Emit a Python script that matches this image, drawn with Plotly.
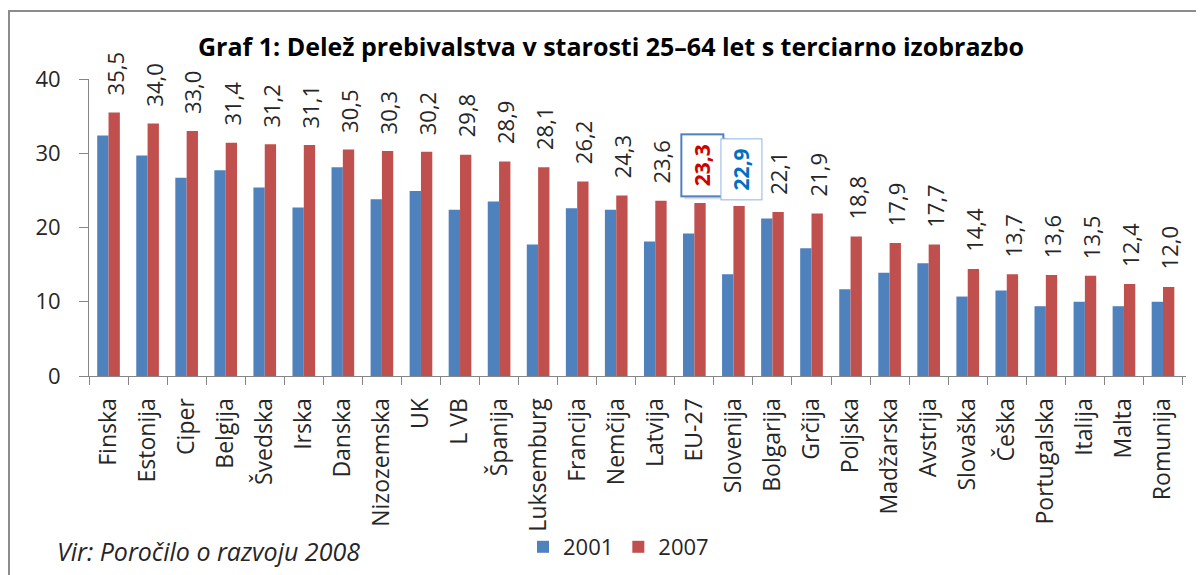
import plotly.graph_objects as go

categories = ["Finska", "Estonija", "Ciper", "Belgija", "Švedska", "Irska", "Danska",
              "Nizozemska", "UK", "L VB", "Španija", "Luksemburg", "Francija", "Nemčija",
              "Latvija", "EU-27", "Slovenija", "Bolgarija", "Grčija", "Poljska", "Madžarska",
              "Avstrija", "Slovaška", "Češka", "Portugalska", "Italija", "Malta", "Romunija"]

values_2001 = [32.4, 29.7, 26.7, 27.7, 25.4, 22.7, 28.1, 23.8, 24.9, 22.4, 23.5, 17.7,
               22.6, 22.4, 18.1, 19.2, 13.7, 21.2, 17.2, 11.7, 13.9, 15.2, 10.7, 11.5,
               9.4, 10.0, 9.4, 10.0]

values_2007 = [35.5, 34.0, 33.0, 31.4, 31.2, 31.1, 30.5, 30.3, 30.2, 29.8, 28.9, 28.1,
               26.2, 24.3, 23.6, 23.3, 22.9, 22.1, 21.9, 18.8, 17.9, 17.7, 14.4, 13.7,
               13.6, 13.5, 12.4, 12.0]

series_names = ["2001", "2007"]
y_ticks = [0, 10, 20, 30, 40]

highlight = {"EU-27": ("#d00000", "#4f81bd", 2, True),
             "Slovenija": ("#0070c0", "#8eb4e3", 1, False)}

FONT = "Open Sans"
TXT = "#262626"
BLUE = "#4f81bd"
RED = "#c0504d"

W, H = 1204, 575
OFF = 8  # page body margin
# plot area in figure pixels
L, R, T, B = 89 - OFF, 1186 - OFF, 79 - OFF, 376 - OFF
PW, PH = R - L, B - T


def px(x):
    return (x - OFF - L) / PW


def py(y):
    return (B - (y - OFF)) / PH


fig = go.Figure()
fig.add_trace(go.Bar(x=categories, y=values_2001, name=series_names[0],
                     marker=dict(color=BLUE, line=dict(width=0))))
fig.add_trace(go.Bar(x=categories, y=values_2007, name=series_names[1],
                     marker=dict(color=RED, line=dict(width=0))))


def fmt(v):
    return f"{v:.1f}".replace(".", ",")


annotations = []
for c, v in zip(categories, values_2007):
    if c in highlight:
        tcol, bcol, bw, shadow = highlight[c]
        if shadow:
            annotations.append(dict(
                x=c, y=v, xref="x", yref="y", text=f"<b>{fmt(v)}</b>", showarrow=False,
                textangle=-90, xanchor="center", yanchor="bottom", xshift=11, yshift=3,
                font=dict(family=FONT, size=21, color="rgba(0,0,0,0)"),
                bordercolor="rgba(0,0,0,0)", borderwidth=bw, borderpad=4,
                bgcolor="rgba(0,0,0,0.13)", width=52, height=32))
        annotations.append(dict(
            x=c, y=v, xref="x", yref="y", text=f"<b>{fmt(v)}</b>", showarrow=False,
            textangle=-90, xanchor="center", yanchor="bottom", xshift=8, yshift=6,
            font=dict(family=FONT, size=21, color=tcol),
            bordercolor=bcol, borderwidth=bw, borderpad=4, bgcolor="white",
            width=52, height=32))
    else:
        annotations.append(dict(
            x=c, y=v, xref="x", yref="y", text=fmt(v), showarrow=False,
            textangle=-90, xanchor="center", yanchor="bottom", xshift=6, yshift=15,
            font=dict(family=FONT, size=22, color=TXT)))

annotations.append(dict(
    text="<i>Vir: Poročilo o razvoju 2008</i>", xref="paper", yref="paper",
    x=px(55), y=py(551), xanchor="left", yanchor="middle", showarrow=False,
    font=dict(family=FONT, size=25, color=TXT)))

annotations.append(dict(
    text="<b>Graf 1: Delež prebivalstva v starosti 25–64 let s terciarno izobrazbo</b>",
    xref="paper", yref="paper", x=px(611), y=py(46),
    xanchor="center", yanchor="middle", showarrow=False,
    font=dict(family=FONT, size=25, color="black")))

fig.update_layout(
    width=W, height=H,
    margin=dict(l=L, r=W - R, t=T, b=H - B, autoexpand=False),
    paper_bgcolor="white", plot_bgcolor="white",
    barmode="group", bargap=0.42, bargroupgap=0,
    font=dict(family=FONT, size=22, color=TXT),
    showlegend=True,
    legend=dict(orientation="h", xref="container", yref="container",
                x=(523 - OFF) / W, y=1 - (547 - OFF) / H, xanchor="left", yanchor="middle",
                font=dict(family=FONT, size=22, color=TXT), itemwidth=30,
                bgcolor="rgba(0,0,0,0)"),
    annotations=annotations,
    shapes=[dict(type="rect", xref="paper", yref="paper",
                 x0=px(9), x1=px(1225), y0=py(600), y1=py(11),
                 line=dict(color="#8c8c8c", width=2), fillcolor="rgba(0,0,0,0)",
                 layer="below")],
)

fig.update_xaxes(type="category", showline=True, linecolor="#868686", linewidth=1,
                 ticks="outside", tickson="boundaries", ticklen=8, tickcolor="#868686",
                 tickangle=-90, showgrid=False, ticklabelstandoff=12,
                 tickfont=dict(family=FONT, size=23, color=TXT))
fig.update_yaxes(range=[0, 40], tickvals=y_ticks, showline=True, linecolor="#868686",
                 linewidth=1, ticks="outside", ticklen=9, tickcolor="#868686",
                 showgrid=False, zeroline=False, ticklabelstandoff=14,
                 tickfont=dict(family=FONT, size=22, color=TXT))

fig.write_html("out.html")
